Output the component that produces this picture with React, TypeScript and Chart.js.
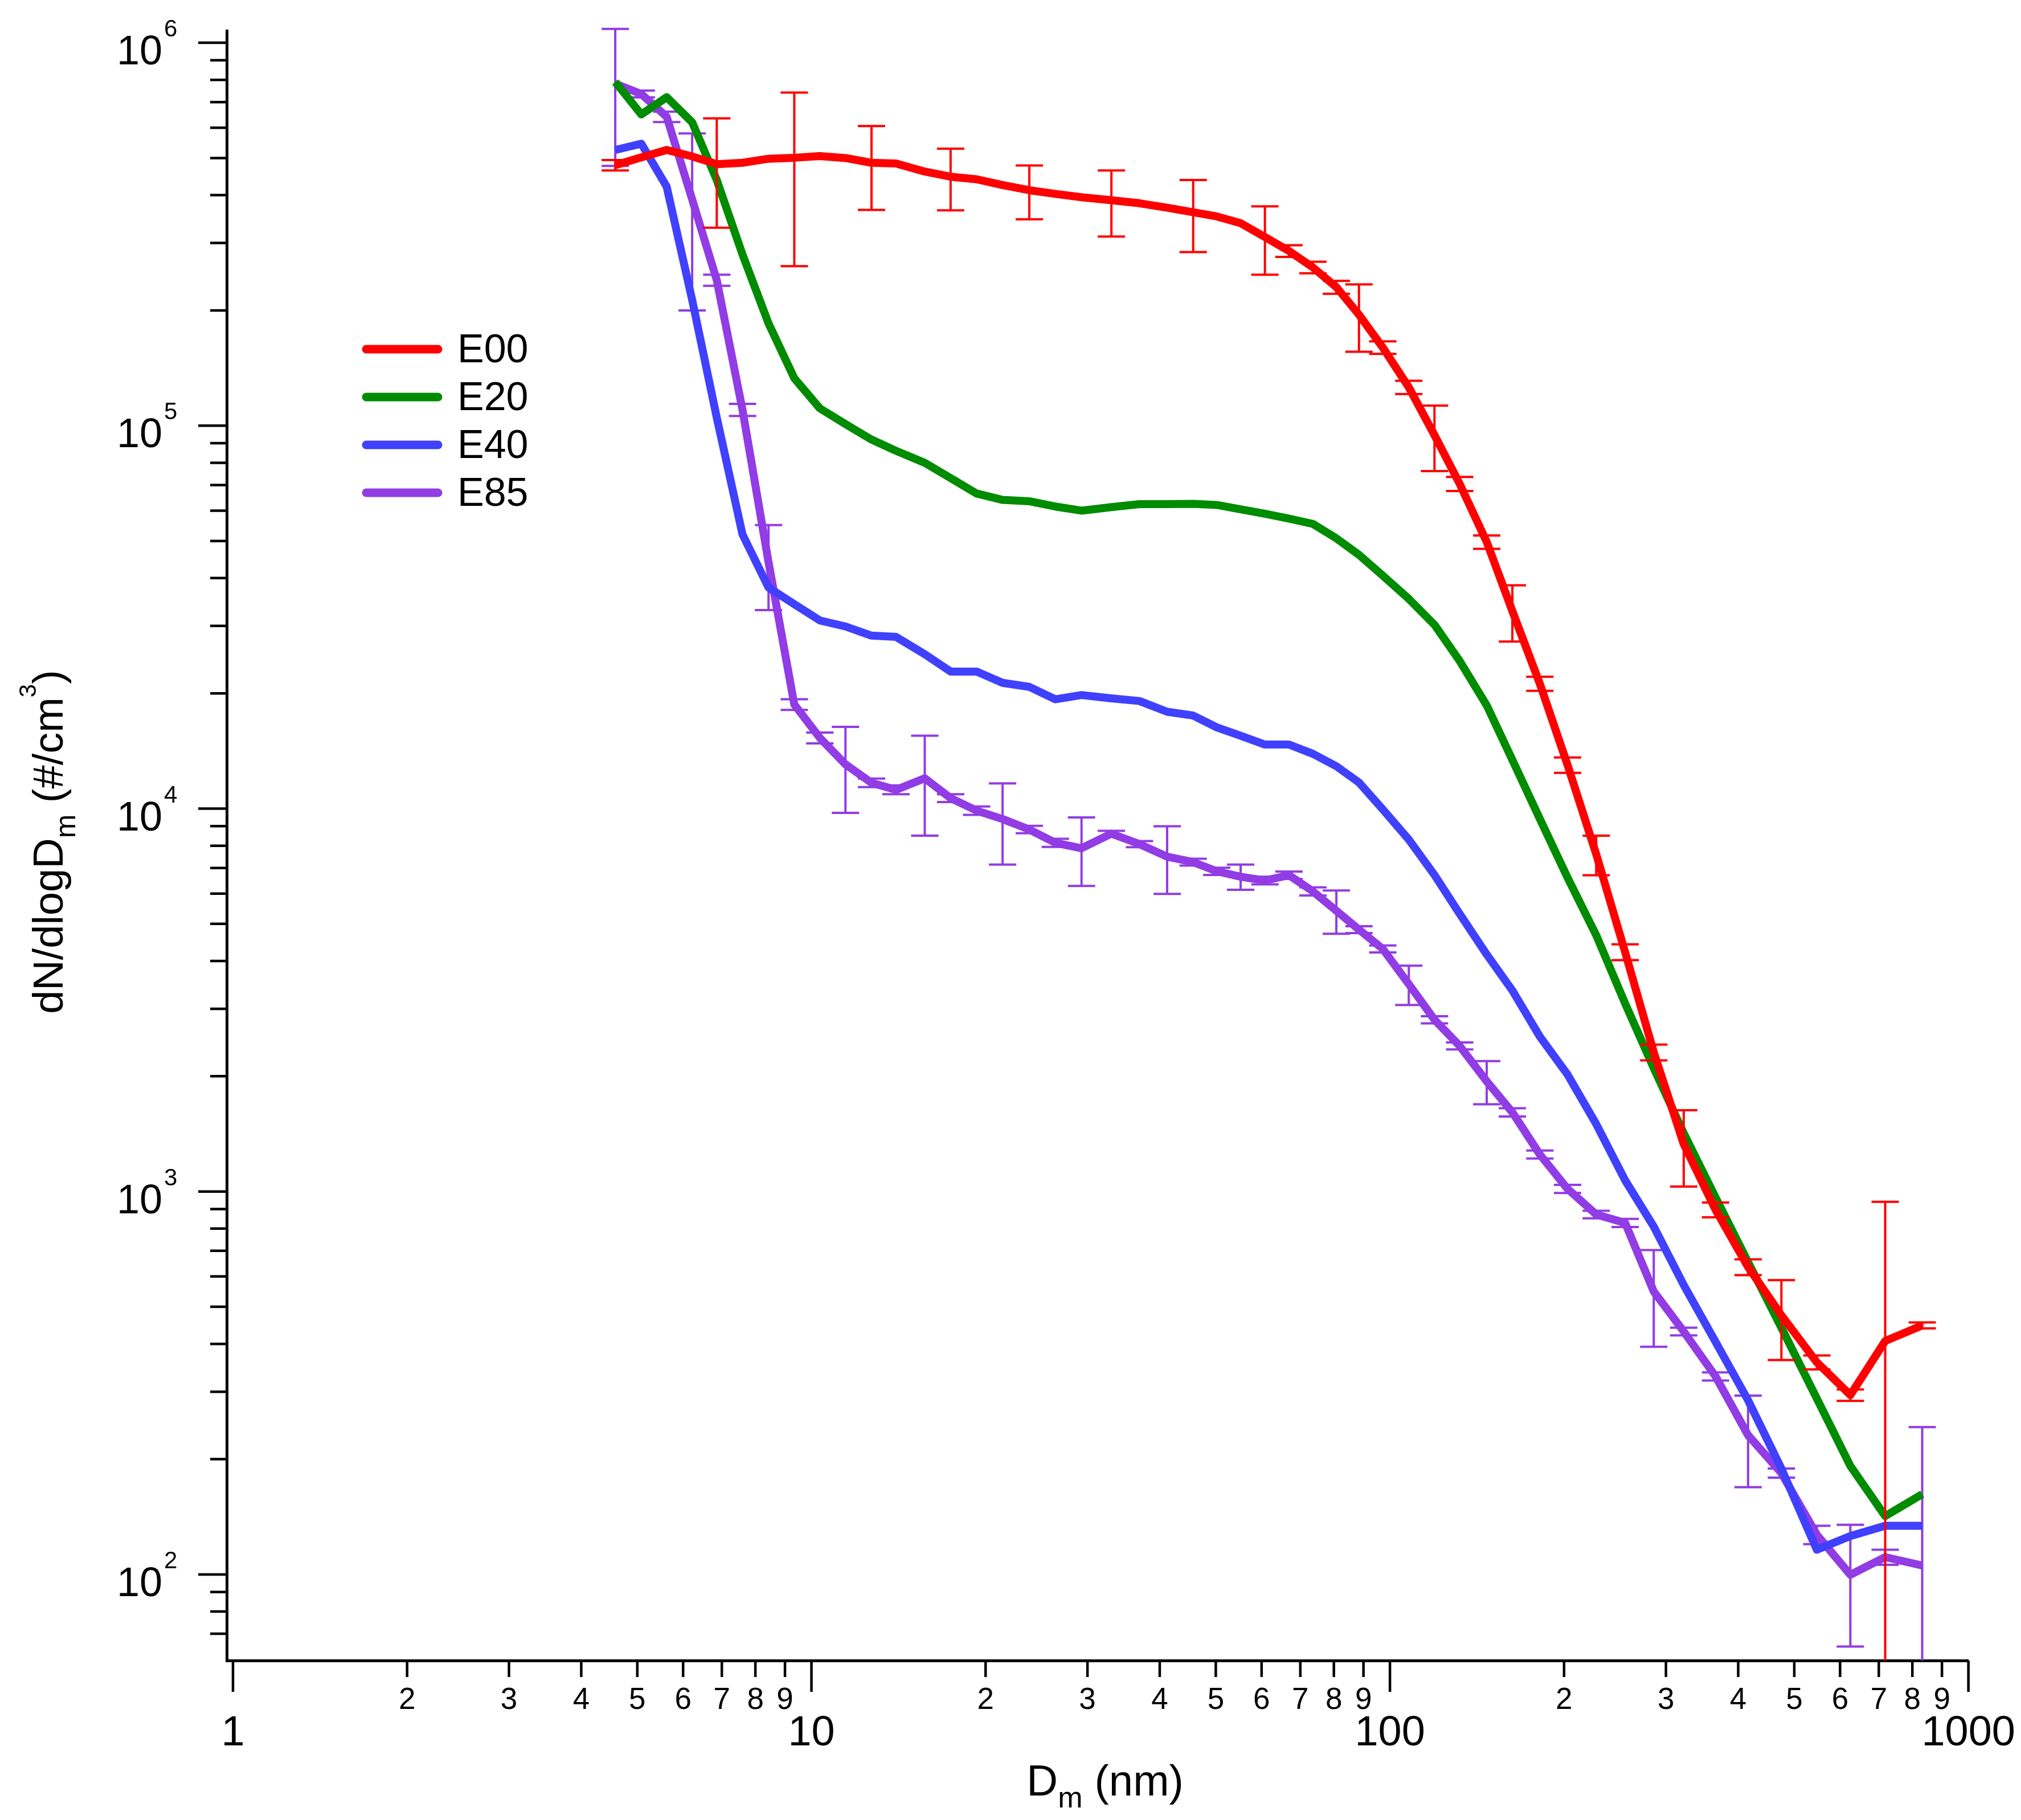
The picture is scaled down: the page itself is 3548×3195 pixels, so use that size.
import React, { useEffect, useRef } from "react";
import { Chart, registerables } from "chart.js";

Chart.register(...registerables);

// mobility diameter bins (nm)
const DIAMETERS = [
  4.58, 5.08, 5.62, 6.22, 6.86, 7.6, 8.43, 9.34, 10.34, 11.45, 12.7, 14.0, 15.7,
  17.4, 19.3, 21.4, 23.8, 26.4, 29.3, 33.0, 36.9, 41.2, 45.7, 50.2, 55.2, 60.8,
  66.9, 73.6, 80.8, 88.4, 97.2, 107.8, 119.4, 132, 147, 162.8, 181.6, 202.8,
  227.3, 255, 285.8, 322, 365.5, 416, 475, 547, 625, 718, 832,
];

const E00 = [
  479000, 502000, 525000, 505000, 482000, 486000, 498000, 501000, 506000, 500000,
  486000, 484000, 461000, 447000, 440000, 425000, 412000, 403000, 395000, 388000,
  381000, 371000, 361000, 352000, 338000, 311000, 286000, 259000, 230000, 195000,
  160000, 126000, 94500, 70500, 49700, 32800, 21200, 13000, 7600, 4220, 2310,
  1330, 896, 635, 475, 358, 294, 407, 447,
];
const E00_ERR = [
  15000, 0, 0, 0, 153000, 0, 0, 240000, 0, 0, 120000, 0, 0, 82000, 0, 0, 66000,
  0, 0, 76000, 0, 0, 77000, 0, 0, 63000, 10000, 9000, 9000, 39000, 6000, 5000,
  18400, 3000, 2000, 5500, 900, 600, 900, 200, 110, 300, 40, 30, 112, 15, 10,
  533, 8,
];

const E20 = [
  790000, 650000, 721000, 620000, 438000, 280000, 185000, 133000, 111000, 101000,
  92000, 86000, 80000, 73000, 66500, 64000, 63500, 61500, 60000, 61300, 62400,
  62400, 62500, 62100, 60500, 58900, 57200, 55400, 50800, 46000, 40600, 35300,
  30200, 24300, 18600, 13400, 9400, 6600, 4670, 3100, 2100, 1420, 965, 654, 441,
  288, 192, 142, 162,
];

const E40 = [
  525000, 545000, 421000, 213000, 105000, 52000, 37800, 34200, 31000, 29900,
  28300, 28100, 25300, 22800, 22800, 21300, 20800, 19300, 19800, 19400, 19100,
  17900, 17500, 16300, 15500, 14700, 14700, 13900, 12900, 11700, 9950, 8300,
  6710, 5310, 4160, 3350, 2540, 2020, 1500, 1070, 810, 570, 405, 285, 189, 116,
  126, 134, 134,
];

const E85 = [
  782000, 735000, 641000, 390000, 240000, 110000, 44000, 18700, 15300, 13050,
  11680, 11200, 12000, 10650, 9880, 9390, 8820, 8140, 7880, 8600, 8080, 7490,
  7250, 6860, 6640, 6490, 6700, 6080, 5410, 4830, 4300, 3480, 2810, 2400, 1940,
  1610, 1250, 1016, 871, 828, 548, 431, 329, 231, 184, 127, 99.8, 111, 105.5,
];
const E85_ERR = [
  305000, 15000, 20000, 190000, 8000, 4000, 11000, 600, 500, 3300, 300, 300,
  3500, 250, 250, 2250, 200, 200, 1600, 150, 150, 1500, 150, 150, 500, 150, 150,
  150, 700, 100, 90, 410, 60, 50, 250, 40, 30, 25, 20, 20, 155, 10, 8, 62, 5, 7,
  35, 5, 137,
];

const SERIES = [
  { label: "E00", values: E00, errors: E00_ERR, color: "rgb(255,0,0)" },
  { label: "E20", values: E20, errors: null, color: "rgb(0,140,0)" },
  { label: "E40", values: E40, errors: null, color: "rgb(64,64,255)" },
  { label: "E85", values: E85, errors: E85_ERR, color: "rgb(145,60,228)" },
];

// axis ticks
const X_MAJOR = [1, 10, 100, 1000];
const X_MINOR_DIGITS = [2, 3, 4, 5, 6, 7, 8, 9];
const Y_MAJOR_EXP = [2, 3, 4, 5, 6];

const X_MIN = 0.9754;
const X_MAX = 1000;
const Y_MIN = 59.6;
const Y_MAX = 1.075e6;

const FONT = "'Liberation Sans', Arial, Helvetica, sans-serif";

const X_TICKS: number[] = [];
X_MAJOR.forEach((m, i) => {
  X_TICKS.push(m);
  if (i < X_MAJOR.length - 1) X_MINOR_DIGITS.forEach((d) => X_TICKS.push(d * m));
});

const Y_TICKS: number[] = [70, 80, 90];
Y_MAJOR_EXP.forEach((e) => {
  const m = Math.pow(10, e);
  Y_TICKS.push(m);
  if (e < 6) X_MINOR_DIGITS.forEach((d) => Y_TICKS.push(d * m));
});

const isXMajor = (v: number) => X_MAJOR.includes(v);
const isYMajor = (v: number) => Y_MAJOR_EXP.some((e) => Math.pow(10, e) === v);

type Part = { t: string; s: number; dy: number };

function drawRich(ctx: CanvasRenderingContext2D, parts: Part[]) {
  let total = 0;
  parts.forEach((p) => {
    ctx.font = `${p.s}px ${FONT}`;
    total += ctx.measureText(p.t).width;
  });
  let x = -total / 2;
  ctx.textAlign = "left";
  ctx.textBaseline = "alphabetic";
  parts.forEach((p) => {
    ctx.font = `${p.s}px ${FONT}`;
    ctx.fillText(p.t, x, p.dy);
    x += ctx.measureText(p.t).width;
  });
}

const igorAxes = {
  id: "igorAxes",
  afterDatasetDraw(chart: any, args: any) {
    const s = SERIES[args.index];
    if (!s || !s.errors) return;
    const { ctx, chartArea } = chart;
    const x = chart.scales.x;
    const y = chart.scales.y;
    ctx.save();
    // error bars may poke above the plot, but stop at the x axis
    ctx.beginPath();
    ctx.rect(chartArea.left, 0, chartArea.right - chartArea.left, chartArea.bottom);
    ctx.clip();
    ctx.strokeStyle = s.color;
    ctx.lineWidth = 4;
    const cap = 24;
    DIAMETERS.forEach((d, i) => {
      const e = s.errors![i];
      if (!e) return;
      const v = s.values[i];
      const px = x.getPixelForValue(d);
      const top = y.getPixelForValue(v + e);
      const lo = v - e;
      const bot = lo > 0 ? y.getPixelForValue(lo) : chartArea.bottom + 20;
      ctx.beginPath();
      ctx.moveTo(px, top);
      ctx.lineTo(px, bot);
      ctx.moveTo(px - cap, top);
      ctx.lineTo(px + cap, top);
      if (lo > 0) {
        ctx.moveTo(px - cap, bot);
        ctx.lineTo(px + cap, bot);
      }
      ctx.stroke();
    });
    ctx.restore();
  },
  afterDraw(chart: any) {
    const { ctx, chartArea } = chart;
    const x = chart.scales.x;
    const y = chart.scales.y;
    ctx.save();
    ctx.strokeStyle = "#000";
    ctx.fillStyle = "#000";
    ctx.lineWidth = 4.5;

    // tick marks
    ctx.beginPath();
    x.ticks.forEach((t: any) => {
      const px = x.getPixelForValue(t.value);
      const len = isXMajor(t.value) ? 55 : 29;
      ctx.moveTo(px, chartArea.bottom);
      ctx.lineTo(px, chartArea.bottom + len);
    });
    y.ticks.forEach((t: any) => {
      const py = y.getPixelForValue(t.value);
      const len = isYMajor(t.value) ? 50 : 29;
      ctx.moveTo(chartArea.left, py);
      ctx.lineTo(chartArea.left - len, py);
    });
    ctx.stroke();

    // y tick labels: 10 with superscript exponent
    Y_MAJOR_EXP.forEach((e) => {
      const py = y.getPixelForValue(Math.pow(10, e));
      ctx.textBaseline = "alphabetic";
      ctx.font = `72px ${FONT}`;
      ctx.textAlign = "right";
      ctx.fillText("10", 285, py + 38);
      ctx.font = `42px ${FONT}`;
      ctx.textAlign = "left";
      ctx.fillText(String(e), 288, py - 11);
    });

    // axis titles
    ctx.save();
    ctx.translate(1940, 3152);
    drawRich(ctx, [
      { t: "D", s: 76, dy: 0 },
      { t: "m", s: 52, dy: 21 },
      { t: " (nm)", s: 76, dy: 0 },
    ]);
    ctx.restore();

    ctx.save();
    ctx.translate(110, 1478);
    ctx.rotate(-Math.PI / 2);
    drawRich(ctx, [
      { t: "dN/dlogD", s: 74, dy: 0 },
      { t: "m", s: 50, dy: 22 },
      { t: " (#/cm", s: 74, dy: 0 },
      { t: "3", s: 42, dy: -47 },
      { t: ")", s: 74, dy: 0 },
    ]);
    ctx.restore();

    // legend
    SERIES.forEach((s, i) => {
      const ly = 613 + i * 84;
      ctx.strokeStyle = s.color;
      ctx.lineWidth = 15;
      ctx.lineCap = "round";
      ctx.beginPath();
      ctx.moveTo(643, ly);
      ctx.lineTo(769, ly);
      ctx.stroke();
      ctx.fillStyle = "#000";
      ctx.font = `70px ${FONT}`;
      ctx.textAlign = "left";
      ctx.textBaseline = "alphabetic";
      ctx.fillText(s.label, 803, ly + 23);
    });
    ctx.restore();
  },
};

export default function App() {
  const canvasRef = useRef<HTMLCanvasElement | null>(null);
  const chartRef = useRef<Chart | null>(null);

  useEffect(() => {
    if (!canvasRef.current) return;
    document.body.style.margin = "0";

    chartRef.current = new Chart(canvasRef.current, {
      type: "line",
      data: {
        datasets: SERIES.map((s) => ({
          label: s.label,
          data: DIAMETERS.map((d, i) => ({ x: d, y: s.values[i] })),
          borderColor: s.color,
          backgroundColor: s.color,
          borderWidth: 14,
          borderJoinStyle: "round" as const,
          pointRadius: 0,
          tension: 0,
          fill: false,
        })),
      },
      options: {
        animation: false,
        responsive: false,
        devicePixelRatio: 1,
        layout: { padding: { top: 54, right: 86, bottom: 0, left: 0 } },
        plugins: { legend: { display: false }, tooltip: { enabled: false } },
        scales: {
          x: {
            type: "logarithmic",
            position: "bottom",
            min: X_MIN,
            max: X_MAX,
            grid: { display: false },
            border: { display: true, color: "#000", width: 5 },
            afterBuildTicks: (scale: any) => {
              scale.ticks = X_TICKS.map((v) => ({ value: v, major: isXMajor(v) }));
            },
            afterFit: (scale: any) => {
              scale.height = 280;
            },
            ticks: {
              autoSkip: false,
              maxRotation: 0,
              minRotation: 0,
              padding: 10,
              color: "#000",
              font: (ctx: any) =>
                ctx.tick && isXMajor(ctx.tick.value)
                  ? { family: FONT, size: 74, lineHeight: "74px" }
                  : { family: FONT, size: 53, lineHeight: "105px" },
              callback: (value: any) => {
                const v = Number(value);
                if (isXMajor(v)) return ["", String(v)];
                const m = Math.pow(10, Math.floor(Math.log10(v) + 1e-9));
                return String(Math.round(v / m));
              },
            },
          },
          y: {
            type: "logarithmic",
            min: Y_MIN,
            max: Y_MAX,
            grid: { display: false },
            border: { display: true, color: "#000", width: 5 },
            afterBuildTicks: (scale: any) => {
              scale.ticks = Y_TICKS.map((v) => ({ value: v, major: isYMajor(v) }));
            },
            afterFit: (scale: any) => {
              scale.width = 398;
            },
            ticks: { display: false },
          },
        },
      },
      plugins: [igorAxes],
    } as any);

    return () => {
      if (chartRef.current) chartRef.current.destroy();
    };
  }, []);

  return (
    <div style={{ position: "absolute", left: 0, top: 0, width: 3548, height: 3195, background: "#fff" }}>
      <canvas ref={canvasRef} width={3548} height={3195} style={{ display: "block", width: 3548, height: 3195 }} />
    </div>
  );
}
